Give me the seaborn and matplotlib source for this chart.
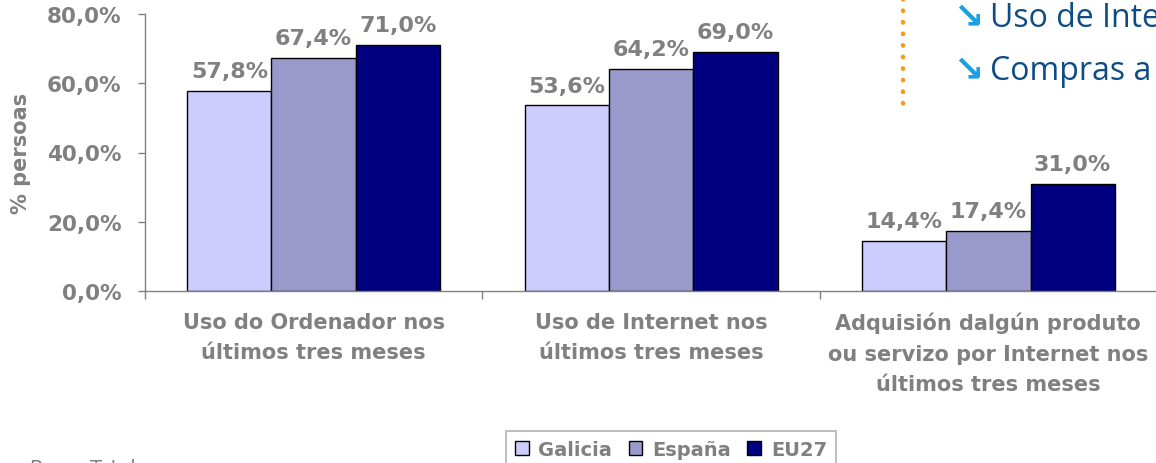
import pandas as pd
import matplotlib.pyplot as plt
import seaborn as sns
from matplotlib.lines import Line2D
from matplotlib.patches import Patch
from matplotlib.ticker import FuncFormatter, FixedLocator

sns.set_style('white')
plt.rcParams['font.family'] = ['DejaVu Sans']

# --- data ---
categorias = ['Uso do Ordenador nos\núltimos tres meses',
              'Uso de Internet nos\núltimos tres meses',
              'Adquisión dalgún produto\nou servizo por Internet nos\núltimos tres meses']
rexions = ['Galicia', 'España', 'EU27']
galicia = [57.8, 53.6, 14.4]
espana = [67.4, 64.2, 17.4]
eu27 = [71.0, 69.0, 31.0]
cores = ['#CCCCFF', '#9999CC', '#000080']

df = pd.DataFrame({
    'categoria': categorias * 3,
    'rexion': [r for r in rexions for _ in categorias],
    'valor': galicia + espana + eu27,
})

GRIS = '#808080'

fig = plt.figure(figsize=(11.56, 4.64), dpi=100)
ax = fig.add_axes([145 / 1156, 1 - 292 / 464, 1012 / 1156, 277 / 464])

sns.barplot(data=df, x='categoria', y='valor', hue='rexion', order=categorias,
            hue_order=rexions, palette=cores, saturation=1, edgecolor='black',
            linewidth=1, width=0.75, ax=ax, legend=False)

for cont, vals in zip(ax.containers, [galicia, espana, eu27]):
    ax.bar_label(cont, labels=[f'{v:.1f}%'.replace('.', ',') for v in vals],
                 padding=7, color=GRIS, fontsize=16, fontweight='bold')

ax.set_ylim(0, 80)
ax.set_xlim(-0.5, 2.5)
ax.set_yticks([0, 20, 40, 60, 80])
ax.yaxis.set_major_formatter(FuncFormatter(lambda v, p: f'{v:.1f}%'.replace('.', ',')))
ax.set_ylabel('% persoas', color=GRIS, fontsize=15, fontweight='bold')
ax.yaxis.set_label_coords((31 - 145) / 1012, 0.5)
ax.set_xlabel('')

for s in ['top', 'right']:
    ax.spines[s].set_visible(False)
for s in ['left', 'bottom']:
    ax.spines[s].set_color(GRIS)
    ax.spines[s].set_linewidth(1)

ax.tick_params(axis='y', which='major', colors=GRIS, labelsize=15.5, length=5,
               width=1, direction='out', left=True, pad=12)
for lab in ax.get_yticklabels():
    lab.set_fontweight('bold')
ax.tick_params(axis='x', which='major', length=0, pad=15, labelsize=15, labelcolor=GRIS)
for lab in ax.get_xticklabels():
    lab.set_fontweight('bold')
    lab.set_linespacing(1.65)
ax.xaxis.set_minor_locator(FixedLocator([-0.5, 0.5, 1.5, 2.5]))
ax.tick_params(axis='x', which='minor', length=6, width=1, color=GRIS,
               direction='out', bottom=True)

# legend
handles = [Patch(facecolor=c, edgecolor='black', linewidth=1) for c in cores]
leg = fig.legend(handles, rexions, loc='upper center', ncol=3,
                 bbox_to_anchor=(671 / 1156, 1 - 432 / 464), frameon=True,
                 fancybox=False, edgecolor='#A0A0A0', handlelength=0.7,
                 handleheight=0.7, handletextpad=0.5, columnspacing=0.85,
                 borderpad=0.45, borderaxespad=0, prop={'weight': 'bold', 'size': 14})
leg.get_frame().set_linewidth(1.2)
for t in leg.get_texts():
    t.set_color(GRIS)

# dotted orange separator and text from the slide on the right
fig.add_artist(Line2D([903 / 1156, 903 / 1156], [1.0, 1 - 105 / 464],
                      transform=fig.transFigure, color='#F99A1C',
                      linestyle=(0, (0.1, 2.5)), linewidth=3.2,
                      solid_capstyle='round', dash_capstyle='round'))
for ytxt, txt in [(27, 'Uso de Internet'), (80, 'Compras a través de Internet')]:
    fig.text(953 / 1156, 1 - (ytxt + 1) / 464, '↘', color='#1BA1E2', fontsize=26,
             fontweight='bold', va='baseline', ha='left')
    fig.text(990 / 1156, 1 - ytxt / 464, txt, color='#0E4C85', fontsize=23,
             family='Open Sans', va='baseline', ha='left')

fig.text(30 / 1156, 1 - 459 / 464, 'Base: Total', color=GRIS, fontsize=14,
         va='top', ha='left')

fig.savefig('out.png', dpi=100)
